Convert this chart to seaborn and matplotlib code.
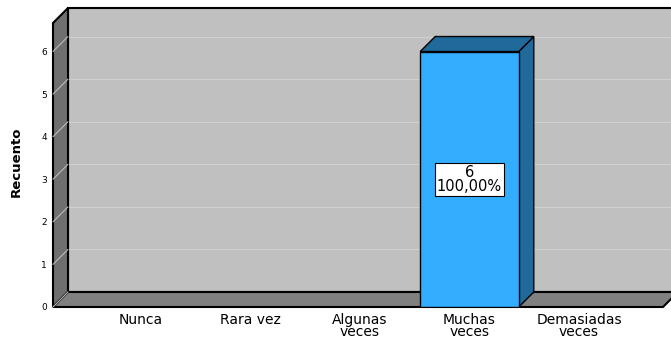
import matplotlib
matplotlib.use("Agg")
import matplotlib.pyplot as plt
from matplotlib.patches import Polygon, Rectangle
import seaborn as sns

# Frequency table
categories = ["Nunca", "Rara vez", "Algunas\nveces", "Muchas\nveces", "Demasiadas\nveces"]
counts = [0, 0, 0, 6, 0]
y_ticks = [0, 1, 2, 3, 4, 5, 6]

total = sum(counts)
percents = [100.0 * c / total for c in counts]

sns.set_theme(style="white")
plt.rcParams["font.family"] = ["DejaVu Sans"]
plt.rcParams["text.color"] = "black"

W, H, DPI = 671, 341, 100
fig = plt.figure(figsize=(W / DPI, H / DPI), dpi=DPI)
fig.patch.set_facecolor("white")

# front plane of the 3D box, in pixels
left_px, right_px, base_px, top_px = 53, 663, 307, 23
ax = fig.add_axes([left_px / W, (H - base_px) / H,
                   (right_px - left_px) / W, (base_px - top_px) / H])

sns.barplot(x=categories, y=counts, color="#33adff", width=0.9,
            edgecolor="black", linewidth=1.0, saturation=1, ax=ax, zorder=5)

# category spacing ~109.5 px, first centre at x=141 px
step_px = 109.5
x0 = (left_px - 141) / step_px
x1 = (right_px - 141) / step_px
ymax = 6.67
ax.set_xlim(x0, x1)
ax.set_ylim(0, ymax)
ax.set_facecolor("none")
for s in ax.spines.values():
    s.set_visible(False)

# depth offset of the box (15 px right, 15 px up) in data units
px_per_y = (base_px - top_px) / ymax
dx = 15 / step_px
dy = 15 / px_per_y

# back wall
ax.add_patch(Rectangle((x0 + dx, dy), 20, ymax, facecolor="#c0c0c0",
                       edgecolor="black", linewidth=1.5, zorder=0.5, clip_on=False))
for v in y_ticks[1:]:
    ax.plot([x0 + dx, x1 + 5], [v + dy, v + dy], color="#d0d0d0",
            linewidth=0.8, zorder=0.6, clip_on=False)

# left wall
ax.add_patch(Polygon([(x0, 0), (x0, ymax), (x0 + dx, ymax + dy), (x0 + dx, dy)],
                     closed=True, facecolor="#6f6f6f", edgecolor="black",
                     linewidth=1.5, zorder=1, clip_on=False))
for v in y_ticks:
    ax.plot([x0, x0 + dx], [v, v + dy], color="#bcbcbc", linewidth=0.8,
            zorder=1.1, clip_on=False)

# floor
ax.add_patch(Polygon([(x0, 0), (x1, 0), (x1 + dx, dy), (x0 + dx, dy)],
                     closed=True, facecolor="#808080", edgecolor="black",
                     linewidth=1.5, zorder=1.2, clip_on=False))
ax.plot([x0, x0 + dx], [0, dy], color="#bcbcbc", linewidth=0.8,
        zorder=1.3, clip_on=False)

# 3D sides and tops of the bars, value labels
for bar, c, p in zip(ax.patches, counts, percents):
    if c <= 0:
        bar.set_visible(False)
        continue
    bx, bw, bh = bar.get_x(), bar.get_width(), bar.get_height()
    side = [(bx + bw, 0), (bx + bw + dx, dy), (bx + bw + dx, bh + dy), (bx + bw, bh)]
    top = [(bx, bh), (bx + bw, bh), (bx + bw + dx, bh + dy), (bx + dx, bh + dy)]
    for pts in (side, top):
        ax.add_patch(Polygon(pts, closed=True, facecolor="#1f6a9a",
                             edgecolor="black", linewidth=1.0, zorder=4,
                             clip_on=False))
    label = f"{c}\n{p:.2f}%".replace(".", ",")
    ax.text(bx + bw / 2, bh / 2, label, ha="center", va="center", color="black",
            fontsize=10.5, linespacing=0.9, zorder=6,
            bbox=dict(boxstyle="square,pad=0.15", facecolor="white",
                      edgecolor="black", linewidth=0.8))

ax.set_yticks(y_ticks)
ax.set_yticklabels([str(v) for v in y_ticks])
ax.tick_params(axis="y", length=0, pad=4.5, labelsize=6.5, labelcolor="black")
ax.tick_params(axis="x", length=0, pad=4, labelsize=10, labelcolor="black")
for t in ax.get_xticklabels():
    t.set_linespacing(0.88)

ax.set_xlabel("")
ax.set_ylabel("Recuento", fontsize=9.5, fontweight="bold", color="black")
ax.yaxis.set_label_coords((23 - left_px) / (right_px - left_px), 0.51)

fig.savefig("out.png", dpi=DPI, facecolor="white")
